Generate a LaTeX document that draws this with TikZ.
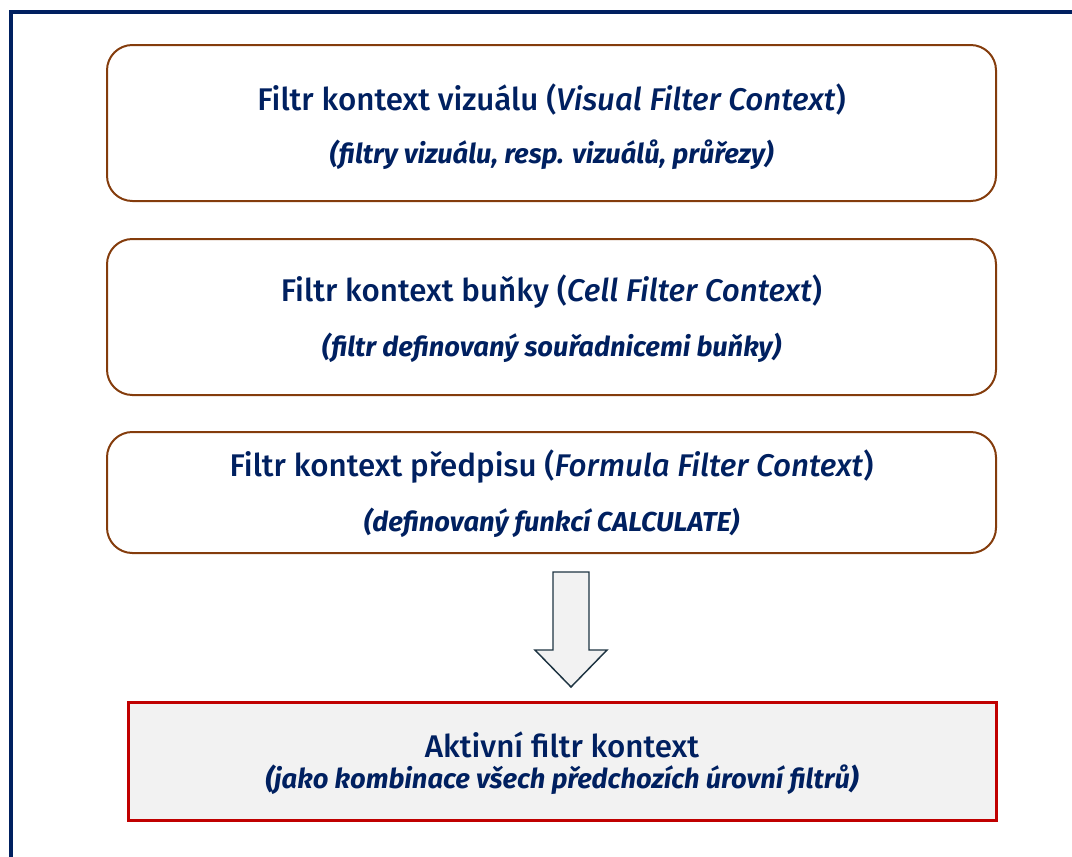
\documentclass[tikz,border=0pt]{standalone}
\usepackage{fontspec}
\setmainfont{Fira Sans}
\newfontfamily\mediumfont{Fira Sans Medium}
\usepackage{xcolor}
\definecolor{FrameNavy}{RGB}{0,32,96}
\definecolor{BoxBrown}{RGB}{132,60,12}
\definecolor{BoxRed}{RGB}{192,0,0}
\definecolor{PaleGrey}{RGB}{242,242,242}
\definecolor{ArrowEdge}{RGB}{30,52,66}
\usetikzlibrary{positioning}
\tikzset{%
  px/.style={x=0.75pt,y=-0.75pt},
  frame line/.style={draw=FrameNavy, line width=3pt},
  level box/.style={draw=BoxBrown, line width=1.5pt, rounded corners=19pt,
    minimum width=666.75pt, minimum height=117pt},
  result box/.style={draw=BoxRed, fill=PaleGrey, line width=2.25pt,
    minimum width=651pt, minimum height=88.5pt},
  block arrow/.style={draw=ArrowEdge, fill=PaleGrey, line width=1.1pt},
  box title/.style={text=FrameNavy, font=\fontsize{23.5}{28}\selectfont\mediumfont},
  box sub/.style={text=FrameNavy, font=\fontsize{20.5}{24}\selectfont\bfseries\itshape}
}

\begin{document}
\begin{tikzpicture}[px]
    \useasboundingbox (0,0) rectangle (1072,857);
    % Outer frame (left and top edge).
    \draw[frame line] (11,857) -- (11,12) -- (1072,12);
    % Level #1.
    \node[level box] (visual) at (551.5,123) {};
    \node[box title] (visualT) at (551.5,100) {Filtr kontext vizuálu (\textit{Visual Filter Context})};
    \node[box sub] (visualS) at (551.5,155) {(filtry vizuálu, resp. vizuálů, průřezy)};
    % Level #2.
    \node[level box] (cell) at (551.5,317) {};
    \node[box title] (cellT) at (551.5,292) {Filtr kontext buňky (\textit{Cell Filter Context})};
    \node[box sub] (cellS) at (551.5,348) {(filtr definovaný souřadnicemi buňky)};
    % Level #3.
    \node[level box, minimum height=90.75pt] (formula) at (551.5,492.5) {};
    \node[box title] (formulaT) at (551.5,467) {Filtr kontext předpisu (\textit{Formula Filter Context})};
    \node[box sub] (formulaS) at (551.5,523) {(definovaný funkcí CALCULATE)};
    % Down arrow.
    \draw[block arrow] (553,572) -- (589,572) -- (589,650) -- (607,650)
      -- (571,687) -- (535,650) -- (553,650) -- cycle;
    % Result.
    \node[result box] (active) at (562,761.5) {};
    \node[box title] (activeT) at (562,745) {Aktivní filtr kontext};
    \node[box sub] (activeS) at (562,780) {{\mediumfont(}jako kombinace všech předchozích úrovní filtrů{\mediumfont)}};
\end{tikzpicture}
\end{document}
